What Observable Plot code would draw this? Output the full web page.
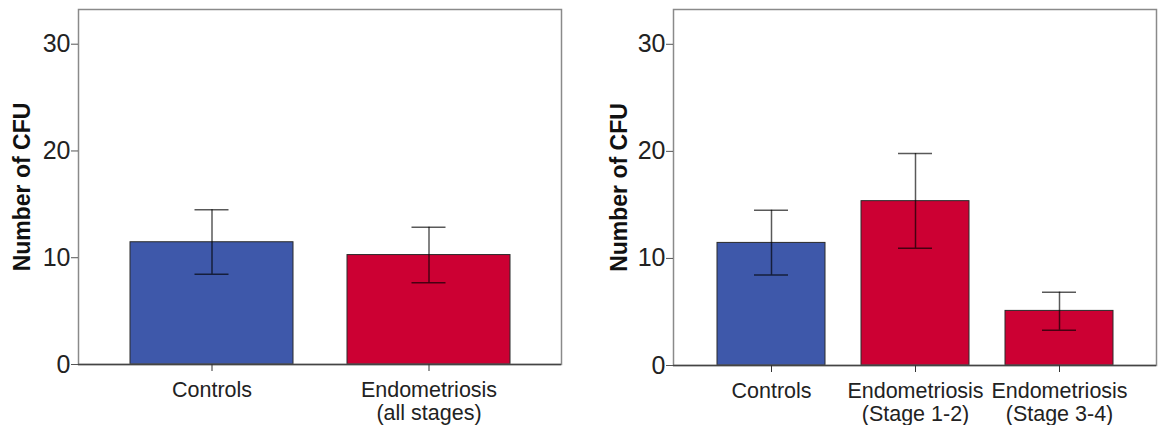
<!DOCTYPE html>
<html><head><meta charset="utf-8">
<script src="https://cdn.jsdelivr.net/npm/d3@7"></script>
<script src="https://cdn.jsdelivr.net/npm/@observablehq/plot@0.6"></script>
<style>
body{margin:0;background:#fff;}
#wrap{position:relative;width:1161px;height:425px;overflow:hidden;}
#left{position:absolute;left:0;top:0;}
#right{position:absolute;left:580px;top:0;}
</style></head><body><div id="wrap"><div id="left"></div><div id="right"></div></div>
<script>
// Left panel data
const leftCategories = ["Controls", "Endometriosis\n(all stages)"];
const leftGroups = ["Controls", "Endometriosis"];
const leftMeans = [11.45, 10.25];
const leftLower = [8.45, 7.65];
const leftUpper = [14.5, 12.85];

// Right panel data
const rightCategories = ["Controls", "Endometriosis\n(Stage 1-2)", "Endometriosis\n(Stage 3-4)"];
const rightGroups = ["Controls", "Endometriosis", "Endometriosis"];
const rightMeans = [11.45, 15.35, 5.1];
const rightLower = [8.45, 10.95, 3.3];
const rightUpper = [14.5, 19.8, 6.85];

const yTicks = [0, 10, 20, 30];
const yLabel = "Number of CFU";
const groupNames = ["Controls", "Endometriosis"];
const groupColors = ["#3e58aa", "#cc0033"];

function panel(cats, groups, means, lo, hi, o) {
  const rows = cats.map((c, i) => ({cat: c, group: groups[i], mean: means[i], lo: lo[i], hi: hi[i]}));
  return Plot.plot({
    width: o.width, height: 425,
    marginLeft: o.ml, marginRight: o.mr, marginTop: 9, marginBottom: o.mb,
    style: {fontFamily: "'Liberation Sans', Arial, sans-serif", color: "#222", background: "white"},
    x: {domain: cats, paddingInner: o.pi, paddingOuter: o.po, label: null},
    y: {domain: [0, 33.25], label: null},
    color: {domain: groupNames, range: groupColors},
    marks: [
      Plot.barY(rows, {x: "cat", y: "mean", fill: "group", stroke: "#2a2a2a", strokeWidth: 1}),
      Plot.ruleX(rows, {x: "cat", y1: "lo", y2: "hi", stroke: "#000", strokeOpacity: 0.65, strokeWidth: 1.5}),
      Plot.tickY(rows, {x: "cat", y: "lo", inset: o.cap, stroke: "#000", strokeOpacity: 0.65, strokeWidth: 1.5}),
      Plot.tickY(rows, {x: "cat", y: "hi", inset: o.cap, stroke: "#000", strokeOpacity: 0.65, strokeWidth: 1.5}),
      Plot.frame({stroke: "#8a8a8a", strokeWidth: 1.5}),
      Plot.ruleY([0], {stroke: "#444", strokeWidth: 1.5}),
      Plot.axisY({ticks: yTicks, tickSize: 7, tickPadding: 1, fontSize: 25, label: null, stroke: "#555"}),
      Plot.axisX({tickSize: 7, tickPadding: 9, fontSize: 21.5, lineHeight: 1.08, label: null, stroke: "#333"}),
      Plot.text([yLabel], {frameAnchor: "left", dx: o.labelDx, rotate: -90, textAnchor: "middle", lineAnchor: "middle",
        fontSize: 23, fontWeight: "bold", fill: "#111"})
    ]
  });
}

document.getElementById("left").append(panel(leftCategories, leftGroups, leftMeans, leftLower, leftUpper,
  {width: 580, ml: 78, mr: 19, mb: 61, pi: 0.25, po: 0.235, cap: 64.5, labelDx: -56}));
document.getElementById("right").append(panel(rightCategories, rightGroups, rightMeans, rightLower, rightUpper,
  {width: 581, ml: 93, mr: 5, mb: 60, pi: 0.25, po: 0.293, cap: 37, labelDx: -54}));
</script>
</body></html>
